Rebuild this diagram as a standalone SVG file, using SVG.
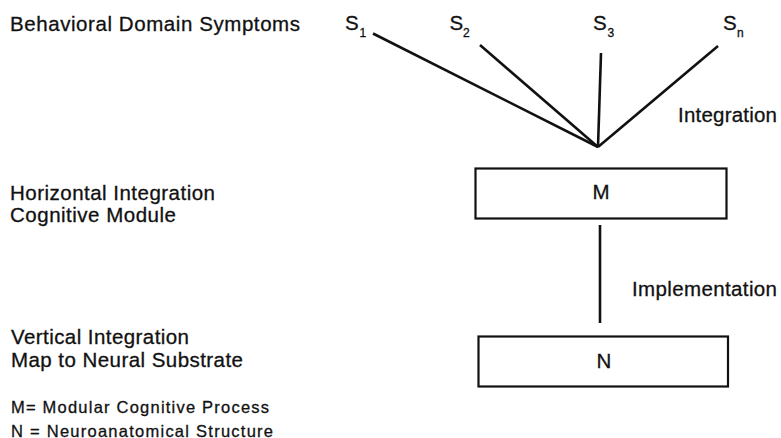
<svg xmlns="http://www.w3.org/2000/svg" width="781" height="438" viewBox="0 0 781 438">
<style>
text{font-family:"Liberation Sans",Arial,sans-serif;fill:#111;stroke:#111;stroke-width:0.3}
.lbl{font-size:20.5px}
.sm{font-size:16.5px}
.s{font-size:20.5px}
.sub{font-size:12px}
.box{fill:#fff;stroke:#111;stroke-width:2.2}
.ln{stroke:#111;stroke-width:2.6;fill:none;stroke-linecap:butt}
</style>
<rect width="781" height="438" fill="#fff"/>
<g id="labels">
<text class="lbl" x="10" y="31" textLength="290" lengthAdjust="spacing">Behavioral Domain Symptoms</text>
<text class="lbl" x="10" y="199.5" textLength="205" lengthAdjust="spacing">Horizontal Integration</text>
<text class="lbl" x="10" y="221.5" textLength="166" lengthAdjust="spacing">Cognitive Module</text>
<text class="lbl" x="11" y="344" textLength="178" lengthAdjust="spacing">Vertical Integration</text>
<text class="lbl" x="11" y="367" textLength="232" lengthAdjust="spacing">Map to Neural Substrate</text>
<text class="sm" x="11" y="412.5" textLength="258" lengthAdjust="spacing">M= Modular Cognitive Process</text>
<text class="sm" x="11" y="436.5" textLength="262" lengthAdjust="spacing">N = Neuroanatomical Structure</text>
<text class="lbl" x="678" y="122" textLength="99" lengthAdjust="spacing">Integration</text>
<text class="lbl" x="632" y="295.5" textLength="145" lengthAdjust="spacing">Implementation</text>
</g>
<g id="s1"><text class="s" x="345" y="30">S</text><text class="sub" x="359.5" y="37">1</text></g>
<g id="s2"><text class="s" x="449.5" y="30">S</text><text class="sub" x="463" y="37">2</text></g>
<g id="s3"><text class="s" x="593" y="30">S</text><text class="sub" x="607.5" y="37">3</text></g>
<g id="sn"><text class="s" x="723" y="30">S</text><text class="sub" x="737" y="37">n</text></g>
<g id="connectors">
<line class="ln" x1="373" y1="33.5" x2="598" y2="147"/>
<line class="ln" x1="480" y1="45" x2="598" y2="147"/>
<line class="ln" x1="601" y1="53" x2="598" y2="147"/>
<line class="ln" x1="718" y1="46" x2="598" y2="147"/>
<line class="ln" x1="600" y1="225" x2="600" y2="323"/>
</g>
<g id="M"><rect class="box" x="475.5" y="168.5" width="251" height="50"/><text class="lbl" x="601" y="199" text-anchor="middle">M</text></g>
<g id="N"><rect class="box" x="478.5" y="336.5" width="249.5" height="50"/><text class="lbl" x="604" y="367.5" text-anchor="middle">N</text></g>
</svg>
